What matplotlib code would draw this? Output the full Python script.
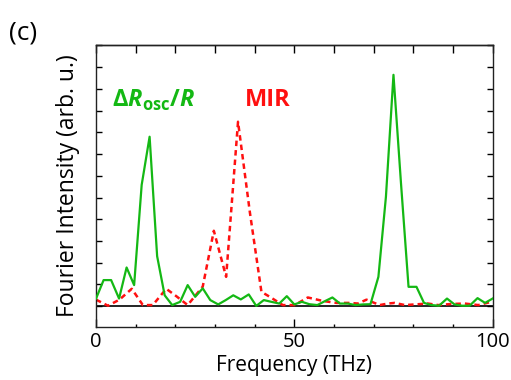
import numpy as np
import matplotlib
matplotlib.use('Agg')
import matplotlib.pyplot as plt
from matplotlib.ticker import MultipleLocator

# спектры (ось y в делениях левой шкалы)
freq_osc = [0, 1.9, 3.8, 5.8, 7.7, 9.6, 11.5, 13.5, 15.4, 17.3, 19.2, 21.2, 23.1,
            25.0, 26.9, 28.8, 30.8, 32.7, 34.6, 36.5, 38.5, 40.4, 42.3, 44.2, 46.2,
            48.1, 50.0, 51.9, 53.8, 55.8, 57.7, 59.6, 61.5, 63.5, 65.4, 67.3, 69.2,
            71.2, 73.1, 75.0, 76.9, 78.8, 80.8, 82.7, 84.6, 86.5, 88.5, 90.4, 92.3,
            94.2, 96.2, 98.1, 100.0]
amp_osc = [0.35, 1.2, 1.2, 0.35, 1.78, 0.97, 5.58, 7.8, 2.3, 0.5, 0.05, 0.2, 0.97,
           0.43, 0.82, 0.28, 0.08, 0.28, 0.5, 0.31, 0.54, 0.01, 0.28, 0.2, 0.12,
           0.46, 0.08, 0.2, 0.09, 0.05, 0.23, 0.4, 0.12, 0.12, 0.05, 0.08, 0.09,
           1.35, 5.04, 10.65, 5.65, 0.89, 0.89, 0.15, 0.05, 0.02, 0.35, 0.08, 0.02,
           0.02, 0.37, 0.15, 0.35]

freq_mir = [0, 3.0, 5.9, 9.0, 11.8, 14.3, 17.7, 20.3, 23.1, 26.9, 29.7, 32.8, 35.8,
            38.8, 41.7, 43.8, 47.1, 50.1, 53.4, 57.2, 60.6, 64.0, 66.0, 68.2, 71.5,
            73.6, 75.3, 77.9, 81.2, 83.7, 86.3, 89.5, 93.0, 96.4, 99.7]
amp_mir = [0.3, 0.02, 0.3, 0.8, 0.05, 0.05, 0.8, 0.45, 0.05, 0.9, 3.47, 1.35, 8.49,
           4.3, 0.66, 0.43, 0.05, 0.05, 0.4, 0.24, 0.15, 0.15, 0.12, 0.3, 0.05,
           0.12, 0.15, 0.05, 0.09, 0.12, 0.05, 0.1, 0.12, 0.05, 0.2]

x_ticks = [0, 50, 100]

plt.rcParams['font.family'] = ['Open Sans', 'DejaVu Sans']
plt.rcParams['mathtext.fontset'] = 'custom'
plt.rcParams['mathtext.bf'] = 'Open Sans:bold'
plt.rcParams['mathtext.bfit'] = 'Open Sans:bold:italic'

green = '#14b814'
red = '#ff1010'

fig = plt.figure(figsize=(5.11, 3.80), dpi=100)
ax = fig.add_axes([0.188, 0.140, 0.776, 0.742])

ax.axhline(0, color='black', lw=1.2, zorder=1)
ax.plot(freq_mir, amp_mir, color=red, lw=1.8, ls=(0, (2.2, 1.6)), zorder=2)
ax.plot(freq_osc, amp_osc, color=green, lw=1.6, zorder=3)

ax.set_xlim(0, 100)
ax.set_ylim(-0.95, 12.03)
ax.set_xticks(x_ticks)
ax.xaxis.set_minor_locator(MultipleLocator(10))
ax.yaxis.set_major_locator(MultipleLocator(1))
ax.set_yticklabels([])
ax.tick_params(axis='x', which='major', direction='in', length=6, width=1,
               labelsize=14.5, pad=4)
ax.tick_params(axis='x', which='minor', direction='in', length=2.5, width=1)
ax.tick_params(axis='y', which='major', direction='in', length=4, width=1,
               left=True, right=True)

top = ax.secondary_xaxis('top')
top.set_xticks(np.arange(0, 101, 10))
top.set_xticklabels([])
top.tick_params(direction='in', length=5.5, width=1)

for sp in list(ax.spines.values()) + list(top.spines.values()):
    sp.set_linewidth(1)
    sp.set_color('#222222')

ax.set_xlabel('Frequency (THz)', fontsize=15, labelpad=2)
ax.set_ylabel('Fourier Intensity (arb. u.)', fontsize=16.5, labelpad=8)

ax.text(4.1, 9.2, r'$\mathbf{\Delta}\mathbfit{R}_{\mathbf{osc}}\mathbf{/}\mathbfit{R}$',
        color=green, fontsize=17, ha='left', va='baseline')
ax.text(37.5, 9.2, 'MIR', color=red, fontsize=17, fontweight='bold',
        ha='left', va='baseline')

fig.text(0.018, 0.895, '(c)', fontsize=19)

fig.savefig('out.png', dpi=100)
